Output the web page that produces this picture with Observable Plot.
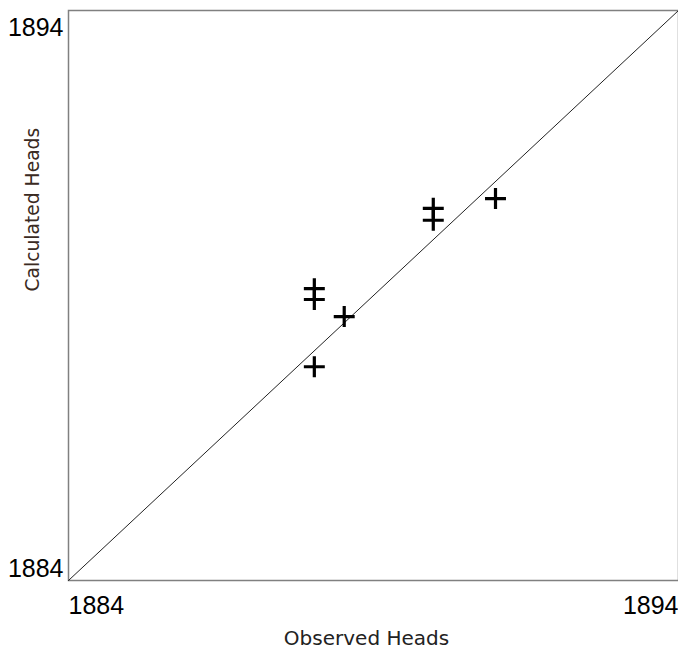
<!DOCTYPE html>
<html>
<head>
<meta charset="utf-8">
<script src="https://cdn.jsdelivr.net/npm/d3@7"></script>
<script src="https://cdn.jsdelivr.net/npm/@observablehq/plot@0.6"></script>
<style>
  html, body { margin: 0; padding: 0; background: #fff; }
</style>
</head>
<body>
<div id="chart"></div>
<script>
// Observed vs calculated heads
const observed   = [1888.03, 1888.03, 1888.52, 1888.03, 1889.98, 1889.98, 1891.0];
const calculated = [1889.12, 1888.93, 1888.63, 1887.75, 1890.53, 1890.32, 1890.70];
const domainLimits = [1884, 1894];
const xTitle = "Observed Heads";
const yTitle = "Calculated Heads";

const points = observed.map((o, i) => ({observed: o, calculated: calculated[i]}));
const identity = domainLimits.map(v => ({observed: v, calculated: v}));
const fmt = d3.format("d");

const chart = Plot.plot({
  width: 678,
  height: 652,
  marginLeft: 68,
  marginRight: 0,
  marginTop: 10,
  marginBottom: 72,
  style: {fontFamily: "'Liberation Sans', Arial, sans-serif", background: "#fff", color: "#000"},
  x: {domain: domainLimits},
  y: {domain: domainLimits},
  marks: [
    Plot.frame({stroke: "#808080", strokeWidth: 1.5}),
    Plot.line(identity, {x: "observed", y: "calculated", stroke: "#222", strokeWidth: 1}),
    Plot.dot(points, {x: "observed", y: "calculated", symbol: "plus", r: 6.8, stroke: "#000", strokeWidth: 3.2}),
    Plot.axisX([domainLimits[0]], {tickSize: 0, tickPadding: 16, textAnchor: "start", fontSize: 25, tickFormat: fmt, label: null}),
    Plot.axisX([domainLimits[1]], {tickSize: 0, tickPadding: 16, textAnchor: "end", fontSize: 25, tickFormat: fmt, label: null}),
    Plot.axisY([domainLimits[1]], {tickSize: 0, tickPadding: 5, lineAnchor: "top", dy: 8, fontSize: 25, tickFormat: fmt, label: null}),
    Plot.axisY([domainLimits[0]], {tickSize: 0, tickPadding: 5, lineAnchor: "bottom", dy: -4, fontSize: 25, tickFormat: fmt, label: null}),
    Plot.text([xTitle], {frameAnchor: "bottom", dy: 64, dx: -7, text: d => d, fontSize: 20, fontFamily: "'DejaVu Sans', sans-serif", fill: "#222"}),
    Plot.text([yTitle], {frameAnchor: "left", dx: -35, dy: -4, rotate: -90, text: d => d, fontSize: 18.7, fontFamily: "'DejaVu Sans', sans-serif", fill: "#3a2a22"})
  ]
});
document.getElementById("chart").appendChild(chart);
</script>
</body>
</html>
